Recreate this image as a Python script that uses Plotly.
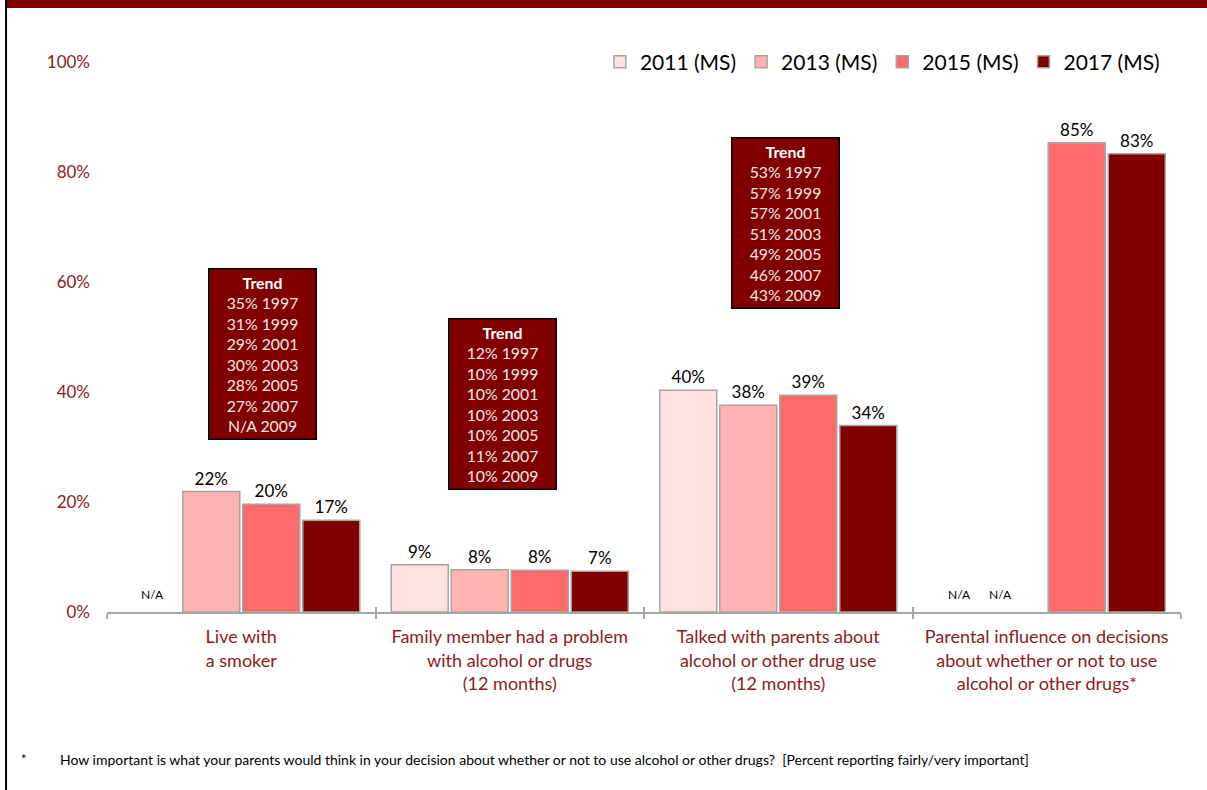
import plotly.graph_objects as go

# ---------------- data ----------------
categories = [
    "Live with<br>a smoker",
    "Family member had a problem<br>with alcohol or drugs<br>(12 months)",
    "Talked with parents about<br>alcohol or other drug use<br>(12 months)",
    "Parental influence on decisions<br>about whether or not to use<br>alcohol or other drugs*",
]
series_names = ["2011 (MS)", "2013 (MS)", "2015 (MS)", "2017 (MS)"]
vals_2011 = [None, 8.6, 40.3, None]
vals_2013 = [21.9, 7.7, 37.6, None]
vals_2015 = [19.6, 7.6, 39.4, 85.3]
vals_2017 = [16.7, 7.4, 33.9, 83.3]
series_values = [vals_2011, vals_2013, vals_2015, vals_2017]
series_colors = ["#FFE1E1", "#FFB3B3", "#FF6B6B", "#800000"]

trend_years = ["1997", "1999", "2001", "2003", "2005", "2007", "2009"]
trend_smoker = ["35%", "31%", "29%", "30%", "28%", "27%", "N/A"]
trend_family = ["12%", "10%", "10%", "10%", "10%", "11%", "10%"]
trend_talked = ["53%", "57%", "57%", "51%", "49%", "46%", "43%"]

footnote = ("How important is what your parents would think in your decision about "
            "whether or not to use alcohol or other drugs?  [Percent reporting fairly/very important]")

y_ticks = [0, 20, 40, 60, 80, 100]
y_ticktext = ["0%", "20%", "40%", "60%", "80%", "100%"]

FONT = "Lato"
RED_TXT = "#8E1B1B"

fig = go.Figure()
for name, vals, col in zip(series_names, series_values, series_colors):
    fig.add_trace(go.Bar(
        name=name, x=categories, y=vals,
        marker=dict(color=col, line=dict(color="#A6A6A6", width=1.5)),
        text=[("" if v is None else f"{v:.0f}%") for v in vals],
        textposition="outside", cliponaxis=False,
        textfont=dict(family=FONT, size=17, color="#000000"),
    ))

# invisible trace for overlay axis (inside tick marks)
fig.add_trace(go.Scatter(x=[None], y=[None], xaxis="x2", showlegend=False, hoverinfo="skip"))

def trend_text(vals):
    body = "<br>".join(f"{v} {y}" for v, y in zip(vals, trend_years))
    return "<b><span style='color:#FFFFFF'>Trend</span></b><br>" + body

annotations = []
for cat, vals, yv, xs in [(categories[0], trend_smoker, 47.0, 21),
                          (categories[1], trend_family, 37.8, -7),
                          (categories[2], trend_talked, 70.8, 7)]:
    annotations.append(dict(
        x=cat, y=yv, xref="x", yref="y", xshift=xs,
        text=trend_text(vals), showarrow=False, align="center",
        bgcolor="#800000", bordercolor="#000000", borderwidth=1.5, borderpad=3,
        width=100, font=dict(family=FONT, size=15.8, color="#F6E6E6"),
    ))

# N/A labels
for cat, xs in [(categories[0], -89), (categories[3], -87), (categories[3], -46)]:
    annotations.append(dict(
        x=cat, y=3.2, xref="x", yref="y", xshift=xs, text="N/A", showarrow=False,
        font=dict(family=FONT, size=12, color="#000000"),
    ))

# footnote
annotations.append(dict(x=-0.0773, y=-0.268, xref="paper", yref="paper", text="*",
                        showarrow=False, xanchor="center", yanchor="middle",
                        font=dict(family=FONT, size=13, color="#000000")))
annotations.append(dict(x=-0.0456, y=-0.268, xref="paper", yref="paper", text=footnote,
                        showarrow=False, xanchor="left", yanchor="middle",
                        font=dict(family=FONT, size=14, color="#000000")))

shapes = [
    dict(type="rect", xref="paper", yref="paper", x0=-0.094, x1=1.1, y0=1.098, y1=1.2,
         fillcolor="#800000", line=dict(width=0), layer="above"),
    dict(type="line", xref="paper", yref="paper", x0=-0.094, x1=-0.094, y0=-0.4, y1=1.2,
         line=dict(color="#000000", width=2), layer="above"),
]

fig.update_layout(
    width=1207, height=790,
    margin=dict(l=107, r=26, t=62, b=178),
    paper_bgcolor="white", plot_bgcolor="white",
    barmode="group", bargap=0.106, bargroupgap=0.05,
    font=dict(family=FONT),
    showlegend=True,
    legend=dict(orientation="h", x=0.985, xanchor="right", y=1.0, yanchor="middle",
                font=dict(family=FONT, size=21, color="#000000"),
                itemwidth=30, traceorder="normal"),
    xaxis=dict(type="category", tickson="boundaries", ticks="outside", ticklen=5,
               tickcolor="#A6A6A6", tickwidth=1.5,
               showline=True, linecolor="#A6A6A6", linewidth=1.5,
               showgrid=False, zeroline=False,
               tickfont=dict(family=FONT, size=18, color=RED_TXT),
               ticklabelstandoff=8),
    xaxis2=dict(type="linear", overlaying="x", anchor="y", range=[-0.5, 3.5],
                tickvals=[-0.5, 0.5, 1.5, 2.5, 3.5], ticks="inside", ticklen=5,
                tickcolor="#A6A6A6", tickwidth=1.5, showticklabels=False,
                showgrid=False, zeroline=False, showline=False, side="bottom"),
    yaxis=dict(range=[0, 100], tickvals=y_ticks, ticktext=y_ticktext,
               showgrid=False, zeroline=False, showline=False, ticks="",
               tickfont=dict(family=FONT, size=17, color=RED_TXT),
               ticklabelstandoff=16),
    annotations=annotations,
    shapes=shapes,
)

fig.write_html("out.html", config={"displayModeBar": False},
               post_script="document.body.style.margin='0px';document.body.style.overflow='hidden';")
